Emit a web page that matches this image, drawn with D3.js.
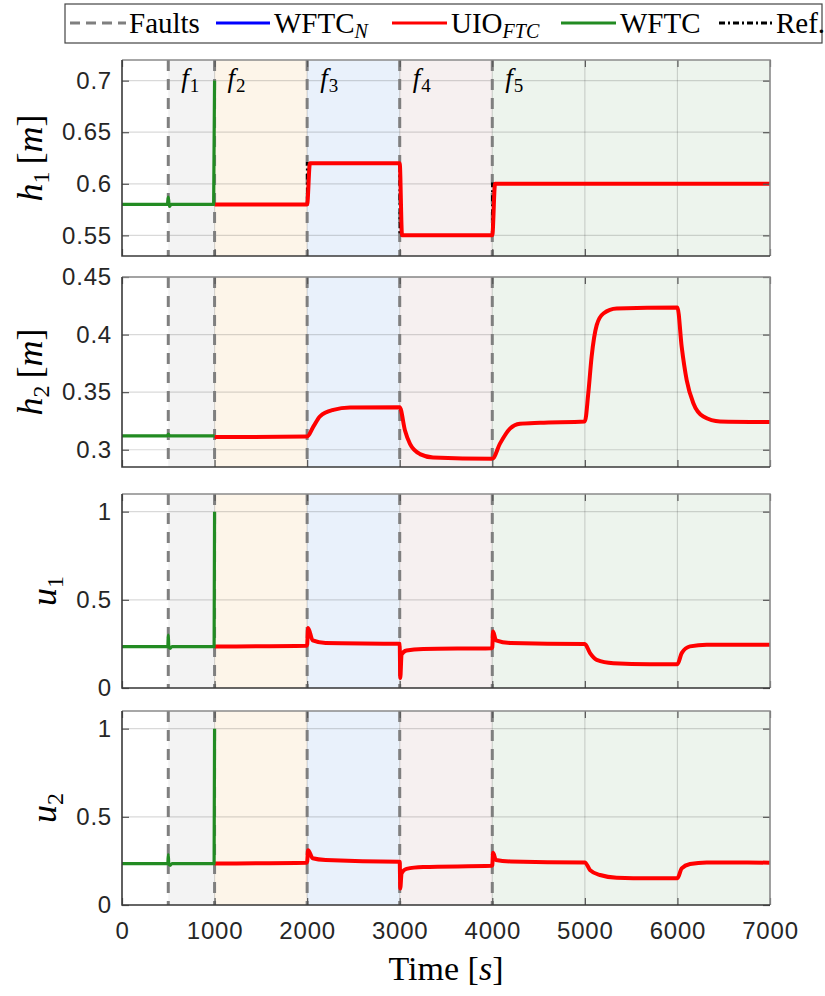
<!DOCTYPE html>
<html>
<head>
<meta charset="utf-8">
<script src="https://cdn.jsdelivr.net/npm/d3@7"></script>
<style>
  body { margin: 0; background: #fff; }
  svg { display: block; }
</style>
</head>
<body>
<div id="chart"></div>
<script>
// Fault instants and the shaded fault windows
const faultTimes = [500, 1000, 2000, 3000, 4000];
const faultNames = ["1", "2", "3", "4", "5"];
const regionStart = [500, 1000, 2000, 3000, 4000];
const regionEnd = [1000, 2000, 3000, 4000, 7000];

const xTicks = [0, 1000, 2000, 3000, 4000, 5000, 6000, 7000];

// h1 [m]
const h1WftcT = [0, 490, 500, 512, 530, 990, 1000];
const h1WftcV = [0.58, 0.58, 0.587, 0.578, 0.58, 0.58, 0.70];
const h1UioT = [1000, 1990, 2000, 2030, 2990, 3000, 3025, 3990, 4000, 4030, 7000];
const h1UioV = [0.58, 0.58, 0.58, 0.62, 0.62, 0.62, 0.55, 0.55, 0.55, 0.60, 0.60];
const h1RefT = [0, 2000, 3000, 4000, 7000];
const h1RefV = [0.58, 0.62, 0.55, 0.60, 0.60];
const h1Ticks = [0.55, 0.6, 0.65, 0.7];

// h2 [m]
const h2WftcT = [0, 490, 500, 515, 1000];
const h2WftcV = [0.312, 0.312, 0.3135, 0.312, 0.312];
const h2UioT = [1000, 2000, 2067, 2139, 2283, 2463, 3000, 3057, 3111, 3219, 3360, 4000, 4083, 4191, 4299, 4516,
                5000, 5037, 5073, 5128, 5200, 5344, 6000, 6046, 6100, 6172, 6280, 6460, 7000];
const h2UioV = [0.311, 0.3115, 0.320, 0.329, 0.3346, 0.3366, 0.3369, 0.3167, 0.305, 0.2962, 0.2933, 0.2922, 0.3053,
                0.3183, 0.3226, 0.3235, 0.3246, 0.349, 0.3808, 0.4082, 0.4183, 0.4226, 0.4235, 0.3894, 0.3605,
                0.3404, 0.3288, 0.3245, 0.324];
const h2Ticks = [0.3, 0.35, 0.4, 0.45];

// u1
const u1WftcT = [0, 495, 500, 505, 520, 540, 995, 1000];
const u1WftcV = [0.235, 0.235, 0.30, 0.24, 0.225, 0.235, 0.235, 1.0];
const u1UioT = [1000, 1995, 2000, 2010, 2060, 2200, 2995, 3000, 3006, 3020, 3073, 3254, 3995, 4000, 4008, 4040,
                4200, 4995, 5000, 5056, 5128, 5308, 5700, 6000, 6046, 6136, 6316, 7000];
const u1UioV = [0.235, 0.24, 0.245, 0.34, 0.27, 0.255, 0.251, 0.25, 0.057, 0.19, 0.213, 0.221, 0.226, 0.23, 0.32,
                0.27, 0.255, 0.249, 0.249, 0.198, 0.16, 0.141, 0.135, 0.135, 0.198, 0.236, 0.245, 0.245];

// u2
const u2WftcT = [0, 495, 500, 505, 520, 540, 995, 1000];
const u2WftcV = [0.235, 0.235, 0.285, 0.235, 0.225, 0.235, 0.235, 1.0];
const u2UioT = [1000, 1995, 2000, 2010, 2060, 2200, 2995, 3000, 3006, 3020, 3073, 3254, 3995, 4000, 4008, 4040,
                4200, 4995, 5000, 5056, 5164, 5344, 5700, 6000, 6046, 6136, 6316, 7000];
const u2UioV = [0.235, 0.24, 0.245, 0.311, 0.265, 0.255, 0.245, 0.245, 0.094, 0.18, 0.205, 0.215, 0.222, 0.225,
                0.296, 0.255, 0.247, 0.2415, 0.2415, 0.198, 0.170, 0.155, 0.152, 0.152, 0.2075, 0.232, 0.2415, 0.24];
const uTicks = [0, 0.5, 1];

// styles
const regionFill = ["#f3f3f3", "#fdf5e9", "#e9f1fb", "#f6f0f0", "#edf4ed"];
const cBlue = "#0000ff", cRed = "#ff0000", cGreen = "#228b22", cFault = "#7f7f7f";
const serif = "'Liberation Serif', 'DejaVu Serif', serif";
const sans = "'Liberation Sans', Arial, sans-serif";

const width = 825, height = 996;
const left = 122, right = 770;

const zip = (t, v) => t.map((d, i) => ({ t: d, v: v[i] }));

const panels = [
  { top: 60, bottom: 256, domain: [0.53, 0.72], ticks: h1Ticks, sym: "h", sub: "1", unit: true, labelX: 42,
    uio: zip(h1UioT, h1UioV), wftc: zip(h1WftcT, h1WftcV), ref: zip(h1RefT, h1RefV), names: true },
  { top: 277, bottom: 467, domain: [0.285, 0.45], ticks: h2Ticks, sym: "h", sub: "2", unit: true, labelX: 42,
    uio: zip(h2UioT, h2UioV), wftc: zip(h2WftcT, h2WftcV) },
  { top: 494, bottom: 688, domain: [0, 1.1], ticks: uTicks, sym: "u", sub: "1", unit: false, labelX: 56,
    uio: zip(u1UioT, u1UioV), wftc: zip(u1WftcT, u1WftcV) },
  { top: 711, bottom: 905, domain: [0, 1.1], ticks: uTicks, sym: "u", sub: "2", unit: false, labelX: 56,
    uio: zip(u2UioT, u2UioV), wftc: zip(u2WftcT, u2WftcV), xLabels: true }
];

const svg = d3.select("#chart").append("svg")
  .attr("width", width)
  .attr("height", height)
  .attr("viewBox", [0, 0, width, height]);

const x = d3.scaleLinear().domain([0, 7000]).range([left, right]);

panels.forEach((p, pi) => {
  const y = d3.scaleLinear().domain(p.domain).range([p.bottom, p.top]);
  const g = svg.append("g");
  const clipId = "clip" + pi;
  svg.append("clipPath").attr("id", clipId)
    .append("rect").attr("x", left).attr("y", p.top).attr("width", right - left).attr("height", p.bottom - p.top);

  // shaded fault windows
  g.selectAll("rect.region").data(regionStart).join("rect")
    .attr("class", "region")
    .attr("x", (d) => x(d))
    .attr("y", p.top)
    .attr("width", (d, i) => x(regionEnd[i]) - x(d))
    .attr("height", p.bottom - p.top)
    .attr("fill", (d, i) => regionFill[i]);

  // grid
  g.selectAll("line.gx").data(xTicks.slice(1, -1)).join("line")
    .attr("x1", (d) => x(d)).attr("x2", (d) => x(d))
    .attr("y1", p.top).attr("y2", p.bottom)
    .attr("stroke", "#000").attr("stroke-opacity", 0.15).attr("stroke-width", 1.2);
  g.selectAll("line.gy").data(p.ticks).join("line")
    .attr("x1", left).attr("x2", right)
    .attr("y1", (d) => y(d)).attr("y2", (d) => y(d))
    .attr("stroke", "#000").attr("stroke-opacity", 0.15).attr("stroke-width", 1.2);

  // fault instants
  g.selectAll("line.fault").data(faultTimes).join("line")
    .attr("x1", (d) => x(d)).attr("x2", (d) => x(d))
    .attr("y1", p.top).attr("y2", p.bottom)
    .attr("stroke", cFault).attr("stroke-width", 3)
    .attr("stroke-dasharray", "11,8");

  const line = d3.line().x((d) => x(d.t)).y((d) => y(d.v)).curve(d3.curveMonotoneX);
  const stepLine = d3.line().x((d) => x(d.t)).y((d) => y(d.v)).curve(d3.curveStepAfter);
  const lines = g.append("g").attr("clip-path", `url(#${clipId})`);

  if (p.ref) {
    lines.append("path").datum(p.ref)
      .attr("fill", "none").attr("stroke", "#000").attr("stroke-width", 2.5)
      .attr("stroke-dasharray", "6,3,2,3").attr("d", stepLine);
  }
  // WFTC_N sits under the UIO_FTC trace
  lines.append("path").datum(p.uio)
    .attr("fill", "none").attr("stroke", cBlue).attr("stroke-width", 2).attr("d", line);
  lines.append("path").datum(p.uio)
    .attr("fill", "none").attr("stroke", cRed).attr("stroke-width", 4)
    .attr("stroke-linejoin", "round").attr("d", line);
  lines.append("path").datum(p.wftc)
    .attr("fill", "none").attr("stroke", cGreen).attr("stroke-width", 3.2)
    .attr("stroke-linejoin", "round").attr("d", line);

  // axes (MATLAB style ticks pointing in)
  g.append("g").attr("transform", `translate(${left},0)`)
    .call(d3.axisLeft(y).tickValues(p.ticks).tickSize(-7).tickPadding(10).tickFormat(d3.format("~g")));
  g.append("g").attr("transform", `translate(${right},0)`)
    .call(d3.axisRight(y).tickValues(p.ticks).tickSize(-7).tickFormat(""));
  g.append("g").attr("transform", `translate(0,${p.bottom})`)
    .call(d3.axisBottom(x).tickValues(xTicks).tickSize(-7).tickPadding(17).tickFormat(p.xLabels ? d3.format("d") : ""));
  g.append("g").attr("transform", `translate(0,${p.top})`)
    .call(d3.axisTop(x).tickValues(xTicks).tickSize(-7).tickFormat(""));
  g.selectAll(".domain").remove();
  g.selectAll(".tick line").attr("stroke", "#555").attr("stroke-width", 1.2);
  g.selectAll(".tick text").attr("font-family", sans).attr("font-size", 24)
    .attr("letter-spacing", 0.8).attr("fill", "#262626");

  // box
  g.append("path")
    .attr("d", `M${left},${p.top}H${right}V${p.bottom}`)
    .attr("fill", "none").attr("stroke", "#8a8a8a").attr("stroke-width", 1.6);
  g.append("path")
    .attr("d", `M${left},${p.top}V${p.bottom}H${right}`)
    .attr("fill", "none").attr("stroke", "#3a3a3a").attr("stroke-width", 1.6);

  // y label
  const yl = g.append("text")
    .attr("transform", `translate(${p.labelX},${(p.top + p.bottom) / 2}) rotate(-90)`)
    .attr("text-anchor", "middle")
    .attr("font-family", serif).attr("font-size", 36).attr("fill", "#000");
  yl.append("tspan").attr("font-style", "italic").text(p.sym);
  yl.append("tspan").attr("font-size", 24).attr("dy", 7).text(p.sub);
  if (p.unit) {
    yl.append("tspan").attr("dy", -7).text("\u2009[");
    yl.append("tspan").attr("font-style", "italic").text("m");
    yl.append("tspan").text("]");
  }

  // fault names
  if (p.names) {
    faultNames.forEach((n, i) => {
      const t = g.append("text")
        .attr("x", x(regionStart[i]) + 13).attr("y", p.top + 27)
        .attr("font-family", serif).attr("font-size", 27).attr("fill", "#000");
      t.append("tspan").attr("font-style", "italic").text("f");
      t.append("tspan").attr("font-size", 19).attr("dy", 5).attr("dx", 1).text(n);
    });
  }
});

// x label
const xl = svg.append("text")
  .attr("x", (left + right) / 2).attr("y", 980)
  .attr("text-anchor", "middle")
  .attr("font-family", serif).attr("font-size", 34).attr("fill", "#000");
xl.append("tspan").text("Time [");
xl.append("tspan").attr("font-style", "italic").text("s");
xl.append("tspan").text("]");

// legend
const legend = svg.append("g");
legend.append("rect")
  .attr("x", 65).attr("y", 4).attr("width", 757).attr("height", 39)
  .attr("fill", "#fff").attr("stroke", "#444").attr("stroke-width", 1.2);

const legendItems = [
  { x0: 70, x1: 126, tx: 129, color: cFault, dash: "10,6", main: "Faults", sub: "" },
  { x0: 216, x1: 270, tx: 274, color: cBlue, dash: null, main: "WFTC", sub: "N" },
  { x0: 392, x1: 447, tx: 451, color: cRed, dash: null, main: "UIO", sub: "FTC" },
  { x0: 561, x1: 616, tx: 620, color: cGreen, dash: null, main: "WFTC", sub: "" },
  { x0: 719, x1: 773, tx: 776, color: "#000", dash: "6,3,2,3", main: "Ref.", sub: "" }
];
legendItems.forEach((it) => {
  legend.append("line")
    .attr("x1", it.x0).attr("x2", it.x1).attr("y1", 23).attr("y2", 23)
    .attr("stroke", it.color).attr("stroke-width", 3)
    .attr("stroke-dasharray", it.dash);
  const t = legend.append("text")
    .attr("x", it.tx).attr("y", 33)
    .attr("font-family", serif).attr("font-size", 29).attr("fill", "#000");
  t.append("tspan").text(it.main);
  if (it.sub) {
    t.append("tspan").attr("font-style", "italic").attr("font-size", 20).attr("dy", 5).text(it.sub);
  }
});
</script>
</body>
</html>
